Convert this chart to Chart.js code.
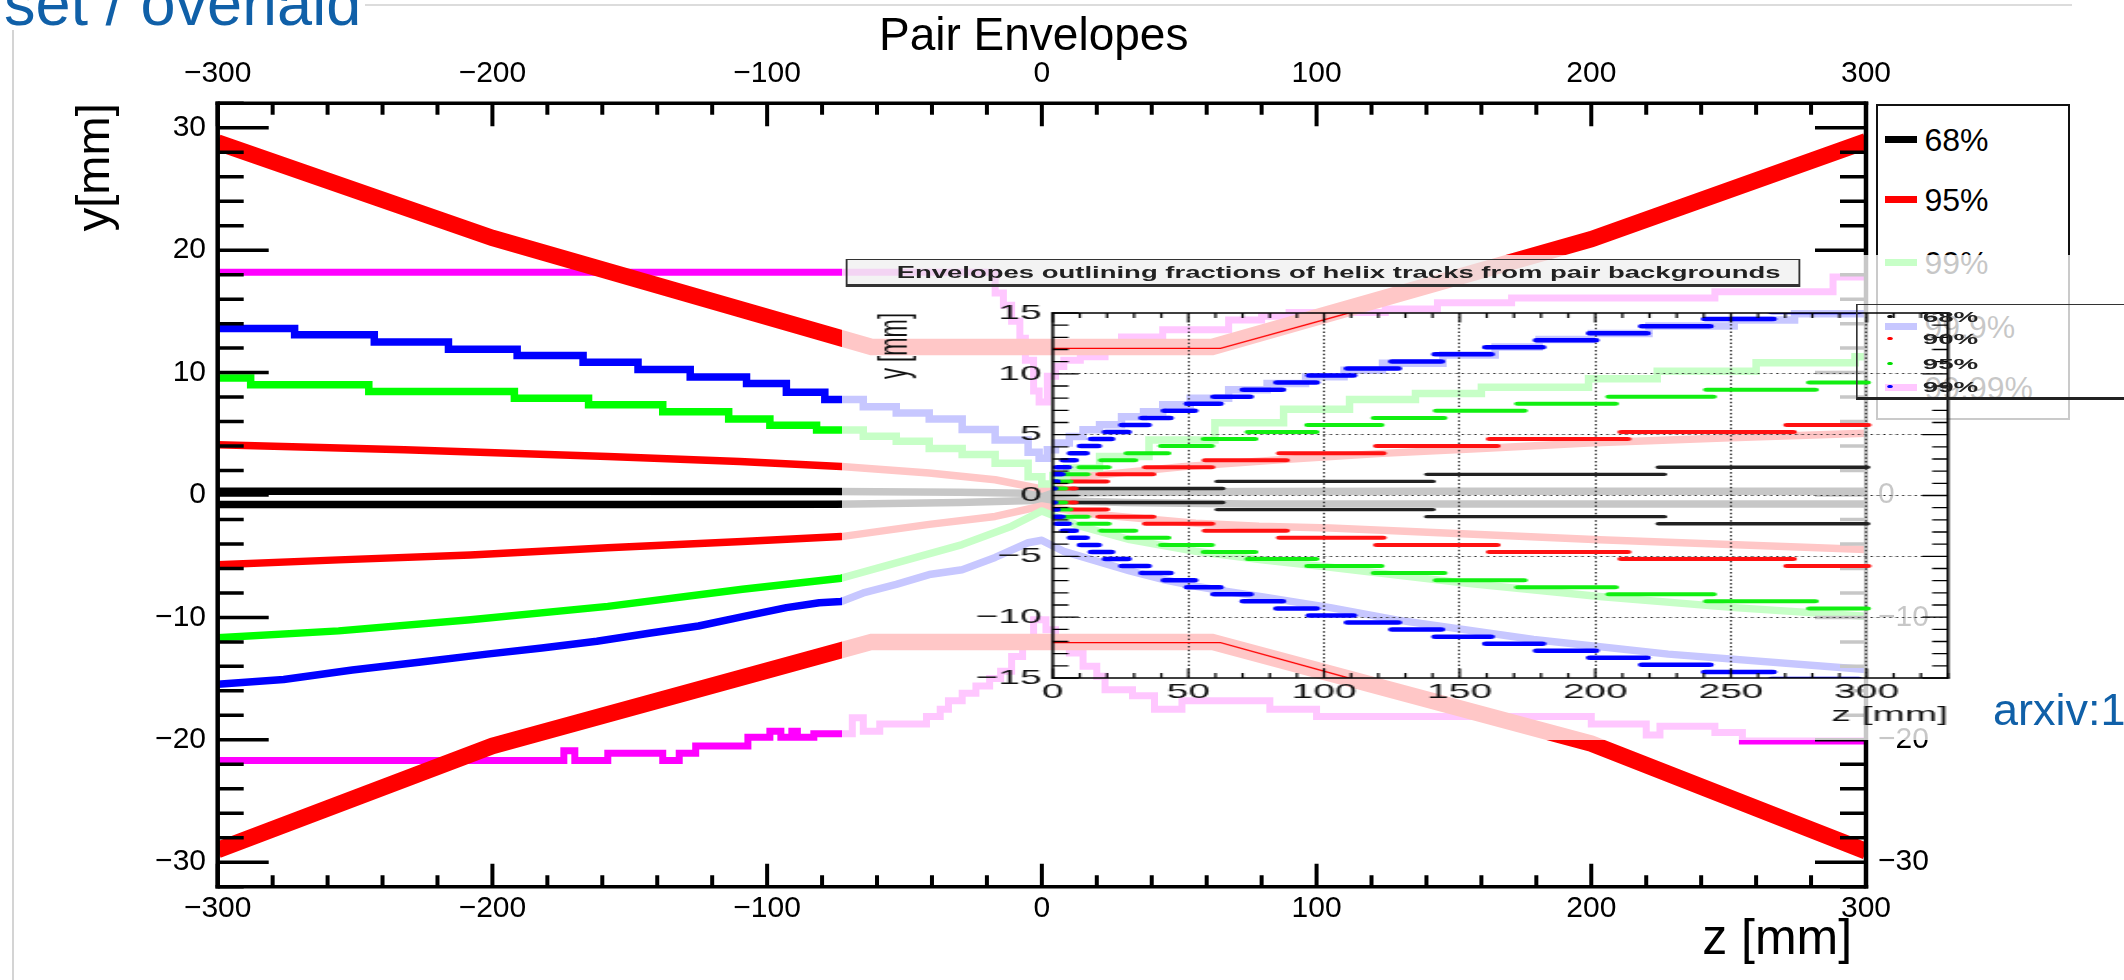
<!DOCTYPE html>
<html><head><meta charset="utf-8">
<script src="https://cdn.jsdelivr.net/npm/chart.js@4.4.1/dist/chart.umd.min.js"></script>
<style>
html,body{margin:0;padding:0;background:#fff;}
body{width:2124px;height:980px;overflow:hidden;position:relative;font-family:'Liberation Sans',Arial,Helvetica,sans-serif;}
.abs{position:absolute;}
#vline{left:12px;top:30px;width:2px;height:950px;background:#d4d4d4;}
#hline{left:365px;top:4px;width:1707px;height:2px;background:#dcdcdc;}
#main{left:0;top:0;}
#mainTitle{left:879px;top:11px;font-size:46px;line-height:46px;color:#000;white-space:nowrap;}
#mainLegend{left:1876px;top:104px;width:194px;height:316px;box-sizing:border-box;border:2.5px solid #111;background:#fff;}
.mlSample{position:absolute;width:32px;height:7px;}
.mlText{position:absolute;font-size:32px;line-height:32px;white-space:nowrap;color:#000;}
#inset{left:842px;top:255px;width:1282px;height:485px;background:rgba(255,255,255,0.78);overflow:hidden;}
#stretch{left:0;top:0;width:693px;height:485px;transform:scaleX(1.85);transform-origin:0 0;}
#insetCanvas{left:0;top:0;}
#insetTitle{left:1.5px;top:4px;width:516px;height:28px;box-sizing:border-box;border:1px solid #333;border-bottom-width:3px;background:rgba(228,228,228,0.45);text-align:center;white-space:nowrap;color:#222;overflow:visible;}
#insetTitle span{display:inline-block;font-weight:bold;font-size:16.5px;line-height:24px;transform:scaleX(0.9);transform-origin:50% 50%;}
#insetLegend{left:548px;top:49px;width:170px;height:96px;box-sizing:border-box;border:1px solid #333;border-bottom:3px solid #222;border-right:none;}
.ilDot{position:absolute;width:2.2px;height:3px;border-radius:50%;}
.ilText{position:absolute;font-weight:bold;font-size:15px;line-height:15px;white-space:nowrap;color:#222;}
#t1{left:4px;top:-28px;font-size:63px;line-height:63px;color:#1060a8;white-space:nowrap;}
#t2{left:1993px;top:687px;font-size:45px;line-height:45px;color:#1060a8;white-space:nowrap;}
</style>
</head>
<body>
<div id="vline" class="abs"></div>
<div id="hline" class="abs"></div>
<canvas id="main" class="abs" width="2124" height="980"></canvas>
<div id="mainTitle" class="abs">Pair Envelopes</div>
<div id="mainLegend" class="abs"></div>
<div id="inset" class="abs">
  <div id="stretch" class="abs">
    <canvas id="insetCanvas" class="abs" width="693" height="485"></canvas>
    <div id="insetTitle" class="abs"><span>Envelopes outlining fractions of helix tracks from pair backgrounds</span></div>
    <div id="insetLegend" class="abs"></div>
  </div>
</div>
<div id="t1" class="abs">set / overlaid</div>
<div id="t2" class="abs">arxiv:1</div>
<script>
// ---------------- DATA: main plot (z in mm, y in mm) ----------------
const mainTicksX = [-300, -200, -100, 0, 100, 200, 300];
const mainTicksY = [-30, -20, -10, 0, 10, 20, 30];

const pipeZ   = [-300, -200, -62, 62, 200, 300];
const pipeUpY = [28.8, 21.0, 12.1, 12.1, 20.9, 28.9];
const pipeLoY = [-29.0, -20.5, -12.0, -12.0, -20.3, -29.1];

const black68Z   = [-300, -150, -75, -30, 0, 30, 75, 150, 300];
const black68UpY = [0.3, 0.3, 0.29, 0.22, 0.12, 0.22, 0.29, 0.3, 0.3];
const black68LoY = [-0.78, -0.78, -0.76, -0.62, -0.42, -0.62, -0.74, -0.74, -0.74];

const red95UpZ = [-300, -232, -158, -110, -73, -41, -17, 0, 8, 15, 51, 88, 124, 160, 199, 248, 300];
const red95UpY = [4.1, 3.7, 3.15, 2.74, 2.33, 1.8, 1.25, 0.5, 1.1, 1.5, 2.3, 2.9, 3.4, 3.8, 4.24, 4.65, 5.05];
const red95LoZ = [-300, -256, -208, -158, -109, -73, -41, -17, 0, 20, 56, 79, 105, 203, 300];
const red95LoY = [-5.7, -5.3, -4.9, -4.3, -3.8, -3.4, -2.4, -1.75, -0.9, -1.6, -2.3, -2.55, -2.7, -3.65, -4.46];

const green99UpZ = [-300, -288, -245, -192, -165, -138, -114, -99, -82, -65, -53, -41, -29, -17, -5, 0, 4, 9, 21, 39, 63, 88, 112, 136, 160, 199, 224, 260, 296, 300];
const green99UpY = [9.55, 9.0, 8.45, 7.9, 7.37, 6.8, 6.2, 5.7, 5.3, 4.8, 4.4, 3.8, 3.3, 2.6, 1.5, 0.9, 1.6, 2.2, 3.15, 4.5, 5.9, 7.0, 7.8, 8.3, 8.8, 9.5, 10.1, 10.8, 11.3, 11.3];
const green99LoZ = [-300, -256, -208, -158, -109, -73, -53, -29, -11, 0, 14, 32, 56, 80, 105, 154, 203, 252, 300];
const green99LoY = [-11.66, -11.1, -10.2, -9.1, -7.7, -6.8, -5.55, -4.05, -2.55, -1.3, -2.55, -3.65, -4.6, -5.3, -5.9, -7.2, -8.3, -9.2, -9.9];

const blue999UpZ = [-300, -272, -243, -216, -191, -167, -147, -128, -107.5, -93, -79, -65, -53, -41, -29, -17, -5, -1, 2, 5, 10, 15, 21, 29, 37, 44, 54, 68, 82, 96, 110, 124, 146, 165, 181, 200, 221, 252, 274, 300];
const blue999UpY = [13.6, 13.1, 12.5, 11.9, 11.4, 10.85, 10.25, 9.65, 9.1, 8.4, 7.8, 7.2, 6.7, 6.2, 5.35, 4.5, 3.5, 3.0, 3.7, 4.24, 4.78, 5.33, 5.73, 6.4, 6.8, 7.37, 7.9, 8.6, 9.1, 9.67, 10.2, 10.77, 11.44, 12.1, 12.7, 13.2, 13.8, 14.3, 14.8, 14.8];
const blue999LoZ = [-300, -276, -251, -226, -202, -182, -162, -143, -125, -108, -93, -81, -73, -65, -53, -41, -29, -17, -5, 0, 8, 20, 32, 44, 56, 68, 80, 105, 129, 179, 228, 300];
const blue999LoY = [-15.47, -15.07, -14.3, -13.65, -13.0, -12.5, -11.95, -11.3, -10.7, -9.9, -9.2, -8.8, -8.7, -8.0, -7.3, -6.5, -6.1, -5.1, -3.9, -3.7, -4.6, -5.4, -6.2, -6.9, -7.45, -7.9, -8.3, -9.2, -10.2, -11.8, -13.0, -14.25];

const mag9999UpZ = [-300, -17, -14, -11, -8, -6, -3, -1, 2, 5, 8, 14, 23, 29, 44, 68, 80, 90, 125, 144, 171, 245, 288, 300];
const mag9999UpY = [18.2, 16.5, 15.5, 14.2, 12.8, 11.0, 8.5, 7.6, 9.7, 10.5, 11.0, 11.3, 12.1, 12.9, 13.5, 14.3, 14.6, 14.9, 15.2, 15.7, 16.1, 16.6, 17.8, 17.8];
const mag9999LoZ = [-300, -174, -170, -158, -138, -132, -126, -107, -99, -95, -91, -89, -83, -69, -65, -59, -42, -37, -34, -29, -24, -19, -15, -11, -7, -3, 1.5, 5, 10, 15, 20, 23, 33, 41, 51, 83, 100, 200, 220, 225, 245, 255, 300];
const mag9999LoY = [-21.7, -20.9, -21.7, -21.1, -21.7, -21.1, -20.5, -19.8, -19.3, -19.8, -19.3, -19.8, -19.5, -18.2, -19.3, -18.7, -18.1, -17.5, -16.8, -16.2, -15.6, -15.0, -14.4, -13.2, -11.8, -10.2, -11.0, -12.35, -12.9, -14.0, -14.8, -15.9, -16.4, -17.5, -16.8, -17.5, -18.1, -18.7, -19.6, -18.9, -19.4, -20.1, -20.1];

const mainLegendLabels = ['68%', '95%', '99%', '99.9%', '99.99%'];
const mainLegendColors = ['#000000', '#ff0000', '#00ff00', '#0000ff', '#ff00ff'];

// ---------------- DATA: inset (binned envelopes, z in mm) ----------------
const inTicksX = [0, 50, 100, 150, 200, 250, 300];
const inTicksY = [-15, -10, -5, 0, 5, 10, 15];
const binYUp = [0.58, 1.16, 1.74, 2.32, 2.9, 3.48, 4.06, 4.64, 5.22, 5.8, 6.38, 6.96, 7.54, 8.12, 8.7, 9.28, 9.86, 10.44, 11.02, 11.6, 12.18, 12.76, 13.34, 13.92, 14.5, 15.08];
const binYLo = [-0.58, -1.16, -1.74, -2.32, -2.9, -3.48, -4.06, -4.64, -5.22, -5.8, -6.38, -6.96, -7.54, -8.12, -8.7, -9.28, -9.86, -10.44, -11.02, -11.6, -12.18, -12.76, -13.34, -13.92, -14.5, -15.08];

const in68Z0 = [7, 60.7, 138, 223.3];
const in68Z1 = [62.6, 140.1, 225.4, 300.3];
const in90Z0 = [1.5, 6.9, 17.1, 34.2, 56.2, 83.6, 119.4, 161, 209.5, 270.6];
const in90Z1 = [8.2, 19.8, 36.9, 58.6, 86.1, 121.8, 163.8, 212, 273, 300.5];
const in95Z0 = [0.5, 1.5, 4.5, 10, 18, 27.4, 40, 55.8, 72, 94, 118.5, 141.4, 171.4, 205, 241, 279];
const in95Z1 = [4.5, 6.3, 12.7, 20.4, 30.2, 42.4, 58.5, 74.5, 97, 121, 144.2, 173.8, 207.4, 243.5, 281.1, 300.3];
const in99Z0 = [0, 0, 0.2, 1.5, 3.9, 6.6, 10.3, 14.3, 19.5, 25.6, 33, 41.2, 49.7, 59.5, 70.3, 82.7, 94.6, 108.7, 125.1, 141, 159.7, 178.4, 198, 217.2, 240.4, 265];
const in99Z1 = [0.5, 1.5, 3.3, 5.7, 8.2, 12.2, 16.7, 21.6, 27.7, 35.1, 43.2, 52.2, 61.6, 72.7, 84.6, 97.1, 110.8, 127.3, 143.2, 161.5, 180.5, 200.1, 219, 242.2, 265.5, 297];

const inPipeZ   = [0, 62, 200, 300];
const inPipeUpY = [12.1, 12.1, 20.6, 29.0];
const inPipeLoY = [-12.1, -12.1, -20.6, -29.0];

const inLegendLabels = ['68%', '90%', '95%', '99%'];
const inLegendColors = ['#111111', '#ff0000', '#00dd00', '#0000ff'];

// ---------------- helpers ----------------
const FONT = "'Liberation Sans', Arial, Helvetica, sans-serif";
const xy = (zs, ys) => zs.map((z, i) => ({x: z, y: ys[i]}));
function segs(z0, z1, ys) {
  const out = [];
  z0.forEach((a, i) => { out.push({x: a, y: ys[i]}, {x: z1[i], y: ys[i]}, {x: z1[i], y: null}); });
  return out;
}
const fmt = v => (v < 0 ? '\u2212' + Math.abs(v) : String(v));

function makeFrame(cfg) {
  return {
    id: 'rootFrame',
    afterDraw(chart) {
      const {ctx, chartArea: a, scales} = chart;
      ctx.save();
      ctx.strokeStyle = '#000';
      ctx.lineCap = 'butt';
      for (const ax of cfg.axes) {
        const s = scales[ax.id];
        ctx.lineWidth = ax.width;
        const first = Math.ceil(s.min / ax.minor - 1e-9);
        const last = Math.floor(s.max / ax.minor + 1e-9);
        ctx.beginPath();
        for (let k = first; k <= last; k++) {
          const v = k * ax.minor;
          const r = v / ax.major;
          const len = Math.abs(r - Math.round(r)) < 1e-6 ? ax.majLen : ax.minLen;
          const p = s.getPixelForValue(v);
          if (ax.side === 'bottom') { ctx.moveTo(p, a.bottom); ctx.lineTo(p, a.bottom - len); }
          else if (ax.side === 'top') { ctx.moveTo(p, a.top); ctx.lineTo(p, a.top + len); }
          else if (ax.side === 'left') { ctx.moveTo(a.left, p); ctx.lineTo(a.left + len, p); }
          else { ctx.moveTo(a.right, p); ctx.lineTo(a.right - len, p); }
        }
        ctx.stroke();
      }
      const hw = cfg.hWidth, vw = cfg.vWidth;
      ctx.lineWidth = hw;
      ctx.beginPath();
      ctx.moveTo(a.left - vw / 2, a.top); ctx.lineTo(a.right + vw / 2, a.top);
      ctx.moveTo(a.left - vw / 2, a.bottom); ctx.lineTo(a.right + vw / 2, a.bottom);
      ctx.stroke();
      ctx.lineWidth = vw;
      ctx.beginPath();
      ctx.moveTo(a.left, a.top - hw / 2); ctx.lineTo(a.left, a.bottom + hw / 2);
      ctx.moveTo(a.right, a.top - hw / 2); ctx.lineTo(a.right, a.bottom + hw / 2);
      ctx.stroke();
      ctx.restore();
    }
  };
}

const lineDs = (label, data, color, width, extra) => Object.assign({
  label, data, borderColor: color, backgroundColor: color, borderWidth: width,
  showLine: true, pointRadius: 0, pointHoverRadius: 0, fill: false, tension: 0, clip: 0,
  borderJoinStyle: 'round', borderCapStyle: 'butt'
}, extra || {});

// ---------------- main chart ----------------
const tickFont30 = {family: FONT, size: 30};
const mainDatasets = [
  lineDs('beam pipe +', xy(pipeZ, pipeUpY), '#ff0000', 16.5, {borderJoinStyle: 'miter'}),
  lineDs('beam pipe -', xy(pipeZ, pipeLoY), '#ff0000', 16.5, {borderJoinStyle: 'miter'}),
  lineDs('99.99% +', xy(mag9999UpZ, mag9999UpY), '#ff00ff', 7, {stepped: 'before', borderJoinStyle: 'miter'}),
  lineDs('99.99% -', xy(mag9999LoZ, mag9999LoY), '#ff00ff', 7, {stepped: 'before', borderJoinStyle: 'miter'}),
  lineDs('99.9% +', xy(blue999UpZ, blue999UpY), '#0000ff', 7.5, {stepped: 'before', borderJoinStyle: 'miter'}),
  lineDs('99.9% -', xy(blue999LoZ, blue999LoY), '#0000ff', 7.5),
  lineDs('99% +', xy(green99UpZ, green99UpY), '#00ff00', 7.5, {stepped: 'before', borderJoinStyle: 'miter'}),
  lineDs('99% -', xy(green99LoZ, green99LoY), '#00ff00', 7.5),
  lineDs('95% +', xy(red95UpZ, red95UpY), '#ff0000', 7.5),
  lineDs('95% -', xy(red95LoZ, red95LoY), '#ff0000', 7.5),
  lineDs('68% +', xy(black68Z, black68UpY), '#000000', 7.5),
  lineDs('68% -', xy(black68Z, black68LoY), '#000000', 7.5)
];

const noGrid = {display: false, drawTicks: false};
new Chart(document.getElementById('main'), {
  type: 'scatter',
  data: {datasets: mainDatasets},
  options: {
    responsive: false, animation: false, devicePixelRatio: 1,
    layout: {padding: 0},
    events: [],
    plugins: {legend: {display: false}, tooltip: {enabled: false}, title: {display: false}},
    scales: {
      x: {type: 'linear', position: 'bottom', min: -300, max: 300,
          grid: noGrid, border: {display: false},
          afterBuildTicks: s => { s.ticks = mainTicksX.map(v => ({value: v})); },
          ticks: {autoSkip: false, maxRotation: 0, padding: 4.3, color: '#000', font: tickFont30, callback: fmt},
          title: {display: true, text: 'z [mm] ', align: 'end', color: '#000', font: {family: FONT, size: 50}, padding: {top: 0, bottom: 9.5}},
          afterFit: s => { s.height = 93.3; }},
      x2: {type: 'linear', position: 'top', min: -300, max: 300,
          grid: noGrid, border: {display: false},
          afterBuildTicks: s => { s.ticks = mainTicksX.map(v => ({value: v})); },
          ticks: {autoSkip: false, maxRotation: 0, padding: 11.3, color: '#000', font: tickFont30, callback: fmt},
          afterFit: s => { s.height = 103.3; }},
      y: {type: 'linear', position: 'left', min: -32, max: 32,
          grid: noGrid, border: {display: false},
          afterBuildTicks: s => { s.ticks = mainTicksY.map(v => ({value: v})); },
          ticks: {autoSkip: false, padding: 11.7, color: '#000', font: tickFont30, callback: fmt},
          title: {display: true, text: 'y[mm]', align: 'end', color: '#000', font: {family: FONT, size: 47}, padding: {top: 68, bottom: 0}},
          afterFit: s => { s.width = 217.7; }},
      y2: {type: 'linear', position: 'right', min: -32, max: 32,
          grid: noGrid, border: {display: false},
          afterBuildTicks: s => { s.ticks = mainTicksY.map(v => ({value: v})); },
          ticks: {autoSkip: false, padding: 12, color: '#000', font: tickFont30, callback: fmt},
          afterFit: s => { s.width = 258; }}
    }
  },
  plugins: [makeFrame({
    hWidth: 3.5, vWidth: 4.5,
    axes: [
      {id: 'x', side: 'bottom', major: 100, minor: 20, majLen: 23, minLen: 11.5, width: 4},
      {id: 'x2', side: 'top', major: 100, minor: 20, majLen: 23, minLen: 11.5, width: 4},
      {id: 'y', side: 'left', major: 10, minor: 2, majLen: 51, minLen: 26, width: 3.5},
      {id: 'y2', side: 'right', major: 10, minor: 2, majLen: 51, minLen: 26, width: 3.5}
    ]
  })]
});

// main legend (ROOT-style box)
(function () {
  const box = document.getElementById('mainLegend');
  const origin = 106.5; // screen y of legend content top
  const centers = [140, 200, 263, 327, 388];
  mainLegendLabels.forEach((lab, i) => {
    const s = document.createElement('div');
    s.className = 'mlSample';
    s.style.left = '6.5px';
    s.style.top = (centers[i] - origin - 3.5) + 'px';
    s.style.background = mainLegendColors[i];
    box.appendChild(s);
    const t = document.createElement('div');
    t.className = 'mlText';
    t.style.left = '46.5px';
    t.style.top = (centers[i] - origin - 15.6) + 'px';
    t.textContent = lab;
    box.appendChild(t);
  });
})();

// ---------------- inset chart ----------------
const tickFont21 = {family: FONT, size: 21};
const inDatasets = [
  lineDs('99%', segs(in99Z0, in99Z1, binYUp.slice(0, in99Z0.length)).concat(segs(in99Z0, in99Z1, binYLo.slice(0, in99Z0.length))), '#0000ff', 4.5, {borderCapStyle: 'round'}),
  lineDs('95%', segs(in95Z0, in95Z1, binYUp.slice(0, in95Z0.length)).concat(segs(in95Z0, in95Z1, binYLo.slice(0, in95Z0.length))), '#11ee11', 4, {borderCapStyle: 'round'}),
  lineDs('90%', segs(in90Z0, in90Z1, binYUp.slice(0, in90Z0.length)).concat(segs(in90Z0, in90Z1, binYLo.slice(0, in90Z0.length))), '#ff1111', 4, {borderCapStyle: 'round'}),
  lineDs('68%', segs(in68Z0, in68Z1, binYUp.slice(0, in68Z0.length)).concat(segs(in68Z0, in68Z1, binYLo.slice(0, in68Z0.length))), '#222222', 3.4, {borderCapStyle: 'round'}),
  lineDs('beam pipe', xy(inPipeZ, inPipeUpY).concat([{x: 300, y: null}], xy(inPipeZ, inPipeLoY)), '#ff0000', 1.3)
];

new Chart(document.getElementById('insetCanvas'), {
  type: 'scatter',
  data: {datasets: inDatasets},
  options: {
    responsive: false, animation: false, devicePixelRatio: 1,
    layout: {padding: 0},
    events: [],
    plugins: {legend: {display: false}, tooltip: {enabled: false}, title: {display: false}},
    scales: {
      x: {type: 'linear', position: 'bottom', min: 0, max: 330,
          grid: {display: true, drawOnChartArea: true, drawTicks: false, lineWidth: 1,
                 color: c => (c.tick && (c.tick.value === 0) ? 'rgba(0,0,0,0)' : '#222')},
          border: {display: false, dash: [1.5, 2.2]},
          afterBuildTicks: s => { s.ticks = inTicksX.map(v => ({value: v})); },
          ticks: {autoSkip: false, maxRotation: 0, padding: 2, color: '#111', font: tickFont21, callback: fmt},
          title: {display: true, text: 'z [mm]', align: 'end', color: '#111', font: {family: FONT, size: 21}, padding: {top: 0, bottom: 12.4}},
          afterFit: s => { s.height = 62; }},
      x2: {type: 'linear', position: 'top', min: 0, max: 330,
          grid: noGrid, border: {display: false}, ticks: {display: false},
          afterFit: s => { s.height = 58; }},
      y: {type: 'linear', position: 'left', min: -15, max: 15,
          grid: {display: true, drawOnChartArea: true, drawTicks: false, lineWidth: 1,
                 color: c => (c.tick && Math.abs(c.tick.value) === 15 ? 'rgba(0,0,0,0)' : '#222')},
          border: {display: false, dash: [1.2, 2.2]},
          afterBuildTicks: s => { s.ticks = inTicksY.map(v => ({value: v})); },
          ticks: {autoSkip: false, padding: 6, color: '#111', font: tickFont21, callback: fmt},
          title: {display: true, text: 'y [mm]', align: 'end', color: '#111', font: {family: FONT, size: 22}, padding: {top: 16, bottom: 0}},
          afterFit: s => { s.width = 113.9; }},
      y2: {type: 'linear', position: 'right', min: -15, max: 15,
          grid: noGrid, border: {display: false}, ticks: {display: false},
          afterFit: s => { s.width = 95.2; }}
    }
  },
  plugins: [makeFrame({
    hWidth: 1.6, vWidth: 1.5,
    axes: [
      {id: 'x', side: 'bottom', major: 50, minor: 10, majLen: 9.5, minLen: 5, width: 1.2},
      {id: 'x2', side: 'top', major: 50, minor: 10, majLen: 9.5, minLen: 5, width: 1.2},
      {id: 'y', side: 'left', major: 5, minor: 1, majLen: 14, minLen: 8.5, width: 1.3},
      {id: 'y2', side: 'right', major: 5, minor: 1, majLen: 14, minLen: 8.5, width: 1.3}
    ]
  })]
});

// inset legend
(function () {
  const box = document.getElementById('insetLegend');
  const centers = [11.7, 33.3, 58.3, 81];
  inLegendLabels.forEach((lab, i) => {
    const d = document.createElement('div');
    d.className = 'ilDot';
    d.style.left = (17.5 - 1.1) + 'px';
    d.style.top = (centers[i] - 1.5) + 'px';
    d.style.background = inLegendColors[i];
    box.appendChild(d);
    const t = document.createElement('div');
    t.className = 'ilText';
    t.style.left = '35.2px';
    t.style.top = (centers[i] - 7.3) + 'px';
    t.textContent = lab;
    box.appendChild(t);
  });
})();
</script>
</body></html>
